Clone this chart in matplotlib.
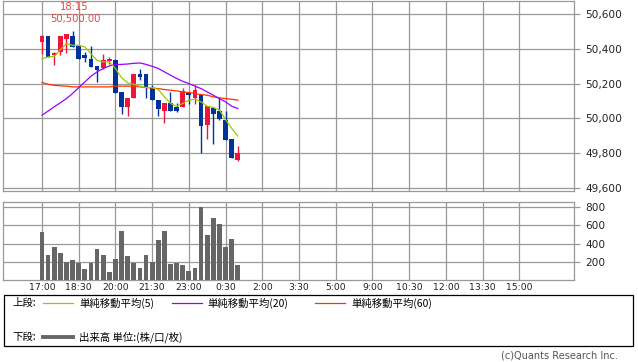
import matplotlib
matplotlib.use("Agg")
import matplotlib.pyplot as plt
from matplotlib.patches import Rectangle

# 15-minute candles starting 17:00 (index 0)
opens = [50440, 50470, 50362, 50380, 50453, 50470, 50413, 50362, 50339, 50299, 50290,
         50330, 50337, 50152, 50067, 50120, 50253, 50253, 50177, 50108, 50044, 50090,
         50063, 50067, 50147, 50118, 50137, 49962, 50061, 50042, 49994, 49880, 49762]
closes = [50475, 50355, 50375, 50470, 50482, 50410, 50343, 50349, 50295, 50276, 50333,
          50343, 50147, 50067, 50120, 50253, 50238, 50177, 50108, 50055, 50086, 50044,
          50044, 50158, 50133, 50162, 49956, 50070, 50028, 49996, 49876, 49775, 49800]
highs = [50480, 50470, 50378, 50470, 50485, 50500, 50420, 50381, 50415, 50299, 50371,
         50352, 50343, 50152, 50120, 50253, 50282, 50253, 50190, 50108, 50086, 50152,
         50086, 50177, 50150, 50190, 50137, 50070, 50063, 50118, 50044, 49880, 49842]
lows = [50370, 50350, 50309, 50365, 50375, 50410, 50340, 50324, 50295, 50210, 50285,
        50314, 50145, 50028, 50013, 50118, 50219, 50118, 50108, 50013, 49975, 50044,
        50035, 50067, 50082, 50082, 49800, 49884, 49853, 49990, 49876, 49775, 49756]
volumes = [530, 279, 365, 304, 204, 225, 196, 132, 196, 344, 279, 96, 236, 541, 268, 196,
           139, 279, 204, 441, 538, 182, 196, 171, 107, 139, 796, 495, 678, 613, 365, 451, 171]

ma5 = [50343, 50352, 50356, 50394, 50429, 50419, 50419, 50410, 50371, 50333, 50324,
       50324, 50286, 50234, 50204, 50196, 50185, 50177, 50177, 50166, 50124, 50086,
       50070, 50086, 50105, 50110, 50095, 50070, 50063, 50048, 49994, 49943, 49899]
ma20 = [50019, 50042, 50067, 50090, 50114, 50143, 50177, 50209, 50242, 50267, 50286,
        50301, 50309, 50310, 50312, 50316, 50318, 50310, 50299, 50286, 50267, 50248,
        50229, 50213, 50200, 50185, 50171, 50152, 50133, 50114, 50095, 50070, 50057]
ma60 = [50206, 50196, 50190, 50187, 50185, 50181, 50181, 50181, 50181, 50181, 50181,
        50181, 50185, 50185, 50185, 50185, 50181, 50177, 50175, 50171, 50166, 50162,
        50158, 50152, 50149, 50143, 50137, 50133, 50124, 50118, 50114, 50110, 50105]

tick_pos = [0, 6, 12, 18, 24, 30, 36, 42, 48, 54, 60, 66, 72, 78]
tick_labels = ["17:00", "18:30", "20:00", "21:30", "23:00", "0:30", "2:00", "3:30",
               "5:00", "9:00", "10:30", "12:00", "13:30", "15:00"]
price_ticks = [49600, 49800, 50000, 50200, 50400, 50600]
vol_ticks = [200, 400, 600, 800]

W, H = 638, 362
RED = "#f0143c"
BLUE = "#003399"
GRID = "#999999"


def frac(x0, y0, x1, y1):
    # pixel box (top-left origin) -> figure fraction rect
    return [x0 / W, 1 - y1 / H, (x1 - x0) / W, (y1 - y0) / H]


fig = plt.figure(figsize=(W / 100, H / 100), dpi=100)

xl = (-6.32, 86.98)

# ---- upper panel: candles + moving averages
ax = fig.add_axes(frac(3.3, 0.5, 574.3, 190.7))
ax.set_xlim(*xl)
ax.set_ylim(49586, 50676)
idx = list(range(len(opens)))
for i in idx:
    up = closes[i] >= opens[i]
    c = RED if up else BLUE
    ax.vlines(i, lows[i], highs[i], color=c, lw=1.0, zorder=3)
    lo, hi = min(opens[i], closes[i]), max(opens[i], closes[i])
    ax.bar(i, max(hi - lo, 4), bottom=lo, width=0.78, color=c, lw=0, zorder=4)
ax.plot(idx, ma60, color="#ff3300", lw=0.9, zorder=5)
ax.plot(idx, ma20, color="#9900ff", lw=0.9, zorder=5)
ax.plot(idx, ma5, color="#99cc00", lw=0.9, zorder=5)

ax.set_yticks(price_ticks)
ax.set_yticklabels([f"{v:,}" for v in price_ticks])
ax.set_xticks(tick_pos)
ax.tick_params(axis="x", length=0, labelbottom=False)

# ---- lower panel: volume
axv = fig.add_axes(frac(3.3, 201.7, 574.3, 279.7))
axv.set_xlim(*xl)
axv.set_ylim(12, 854)
axv.bar(idx, volumes, width=0.78, color="#666666", lw=0, zorder=3)
axv.set_yticks(vol_ticks)
axv.set_yticklabels([str(v) for v in vol_ticks])
axv.set_xticks(tick_pos)
axv.set_xticklabels(tick_labels)
axv.tick_params(axis="x", length=0, pad=2.5, labelsize=6.7, colors="#222222")

for a in (ax, axv):
    a.grid(True, color=GRID, lw=0.9, zorder=0)
    a.set_axisbelow(True)
    for s in a.spines.values():
        s.set_color(GRID)
        s.set_linewidth(0.9)
    a.yaxis.tick_right()
    a.tick_params(axis="y", length=4, width=0.9, color=GRID, pad=4,
                  labelsize=7.6, labelcolor="#222222")

# high annotation
fig.text(73.7 / W, 1 - 6.7 / H, "18:15", color="#e04848", fontsize=7.2,
         ha="center", va="center")
fig.text(75.5 / W, 1 - 18.7 / H, "50,500.00", color="#e04848", fontsize=7.2,
         ha="center", va="center")

# ---- legend box (pixel coordinates overlay)
ov = fig.add_axes([0, 0, 1, 1])
ov.set_xlim(0, W)
ov.set_ylim(H, 0)
ov.axis("off")
ov.add_patch(Rectangle((3.5, 295), 629.5, 51, fill=False, ec="black", lw=0.9))
jp = ["Noto Sans CJK JP", "DejaVu Sans"]
fs = 7.5
ov.text(12, 303, "上段:", family=jp, fontsize=fs, va="center")
ov.plot([43, 73], [303, 303], color="#99cc00", lw=0.9)
ov.text(79, 303, "単純移動平均(5)", family=jp, fontsize=fs, va="center")
ov.plot([172, 202], [303, 303], color="#9900ff", lw=0.9)
ov.text(207, 303, "単純移動平均(20)", family=jp, fontsize=fs, va="center")
ov.plot([315, 345], [303, 303], color="#ff3300", lw=0.9)
ov.text(351, 303, "単純移動平均(60)", family=jp, fontsize=fs, va="center")
ov.text(12, 337, "下段:", family=jp, fontsize=fs, va="center")
ov.plot([43, 73], [337, 337], color="#666666", lw=2.8)
ov.text(79, 337, "出来高 単位:(株/口/枚)", family=jp, fontsize=fs, va="center")
ov.text(618, 356, "(c)Quants Research Inc.", fontsize=7, color="#555555",
        ha="right", va="center")

fig.savefig("out.png", dpi=100)
